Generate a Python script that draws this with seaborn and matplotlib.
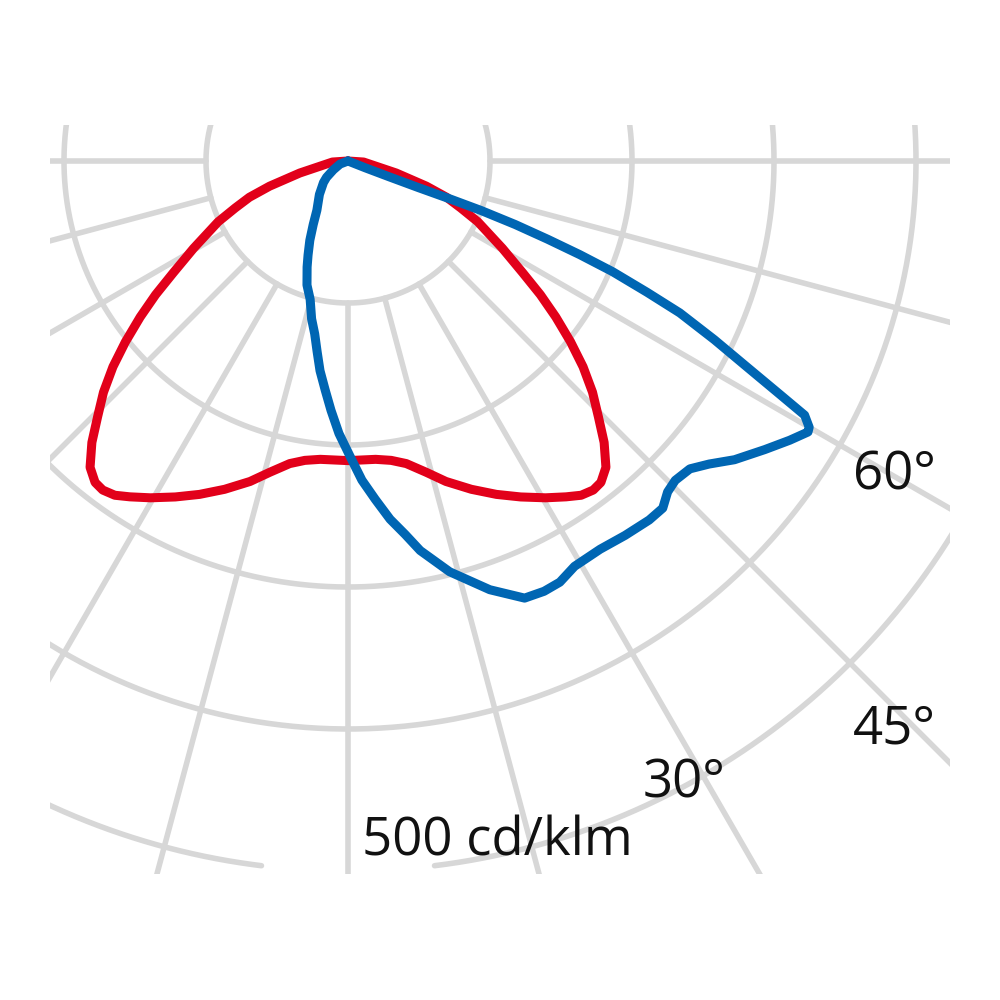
import numpy as np
import pandas as pd
import seaborn as sns
import matplotlib.pyplot as plt

# luminous intensity distribution, angles in degrees from nadir (right = positive), values in cd/klm
# C0-C180 plane (red, symmetric)
red_angle = [-90, -86.2, -76, -72.2, -69.8, -67.4, -64.9, -60.5, -57.4, -55.2, -53.1, -50.9, -48.8, -46.6, -44.4,
             -42.3, -40.1, -38.2, -36.7, -34.9, -33, -30.4, -27.2, -24, -20.6, -17, -14.1, -10.9, -8.2, -5.3, 0,
             5.3, 8.2, 10.9, 14.1, 17, 20.6, 24, 27.2, 30.4, 33, 34.9, 36.7, 38.2, 40.1,
             42.3, 44.4, 46.6, 48.8, 50.9, 53.1, 55.2, 57.4, 60.5, 64.9, 67.4, 69.8, 72.2, 76, 86.2, 90]
red_cd = [0, 11, 35, 58, 74, 86, 101, 125, 146, 165, 183, 202, 220, 237, 252,
          268, 282, 288, 289, 287, 282, 275, 266, 257, 247, 236, 226, 217, 213, 211, 211,
          211, 213, 217, 226, 236, 247, 257, 266, 275, 282, 287, 289, 288, 282,
          268, 252, 237, 220, 202, 183, 165, 146, 125, 101, 86, 74, 58, 35, 11, 0]

# C90-C270 plane (blue), listed along the outline
blue_angle = [-75, -69, -59, -52.7, -48.7, -40.5, -32.3, -28.7, -25.7, -23, -21.1, -18.3, -15.3, -13, -10.9, -9.2,
              -7.6, -5.7, -3.9, -1.9, 0.4, 2.5, 4.6, 6.7, 8.7, 10.5, 13.9, 18.3, 22, 24.5, 26.7, 29.2, 33, 36.5,
              40, 42.2, 44, 45.7, 48, 50, 52.3, 55.3, 57.7, 59.5, 60, 60.9, 61.6, 62.7, 64, 65.4, 66.3, 67.3,
              68, 68.6, 69.2, 69.6, 69.6, 69.3, 69, 68.5, 68]
blue_cd = [0, 6, 12, 19, 23, 31, 41, 51, 62, 72, 80, 92, 101, 114, 124, 136,
           149, 162, 176, 192, 208, 225, 239, 254, 266, 279, 298, 318, 332, 333, 332, 327, 326, 328,
           330, 330, 324, 322, 324, 332, 344, 357, 368, 376, 375, 368, 346, 316, 287, 257, 230, 202,
           176, 151, 126, 100, 77, 53, 31, 13, 0]

ring_values = [100, 200, 300, 400, 500]
spoke_angles = list(range(-90, 91, 15))

labels = ["60°", "45°", "30°", "500 cd/klm"]
label_xy = [(853, 490), (853, 743), (643, 797), (362, 855)]  # left, baseline in pixels

sns.set_theme(style="white")
plt.rcParams['font.family'] = ['Open Sans', 'DejaVu Sans']

fig = plt.figure(figsize=(10, 10), dpi=100)
cx, cy = 348, 161       # pole position in pixels
R = 1000                # axes radius in pixels
px_per_cd = 1.42
ax = fig.add_axes([(cx - R) / 1000, (1000 - cy - R) / 1000, 2 * R / 1000, 2 * R / 1000], projection='polar')
ax.set_theta_zero_location('S')
ax.set_theta_direction(1)
rmax = R / px_per_cd

grey = '#d7d7d7'
glw = 4
theta = np.deg2rad(np.linspace(-180, 180, 1441))
for rv in ring_values[:-1]:
    ax.plot(theta, np.full_like(theta, rv), color=grey, lw=glw, zorder=1)
# outermost ring has a break around nadir
theta_gap = np.deg2rad(np.linspace(7, 353, 1400))
ax.plot(theta_gap, np.full_like(theta_gap, ring_values[-1]), color=grey, lw=glw, zorder=1)
for a in spoke_angles:
    ax.plot([np.deg2rad(a)] * 2, [ring_values[0], rmax], color=grey, lw=glw, zorder=1)

red = pd.DataFrame({'theta': np.deg2rad(red_angle), 'cd': red_cd})
blue = pd.DataFrame({'theta': np.deg2rad(blue_angle), 'cd': blue_cd})
sns.lineplot(data=red, x='theta', y='cd', sort=False, estimator=None, ax=ax, color='#e2001a', lw=6.5,
             solid_joinstyle='round', solid_capstyle='round', zorder=3)
sns.lineplot(data=blue, x='theta', y='cd', sort=False, estimator=None, ax=ax, color='#0066b3', lw=6.5,
             solid_joinstyle='round', solid_capstyle='round', zorder=4)

ax.set_ylim(0, rmax)
ax.axis('off')

clip = plt.Rectangle((0.05, 0.126), 0.9, 0.749, transform=fig.transFigure)
for ln in ax.lines:
    ln.set_clip_path(clip)

for s, (x, y) in zip(labels, label_xy):
    fig.text(x / 1000, 1 - y / 1000, s, fontsize=38, color='#111111', ha='left', va='baseline')

fig.savefig('out.png', dpi=100, facecolor='white')
